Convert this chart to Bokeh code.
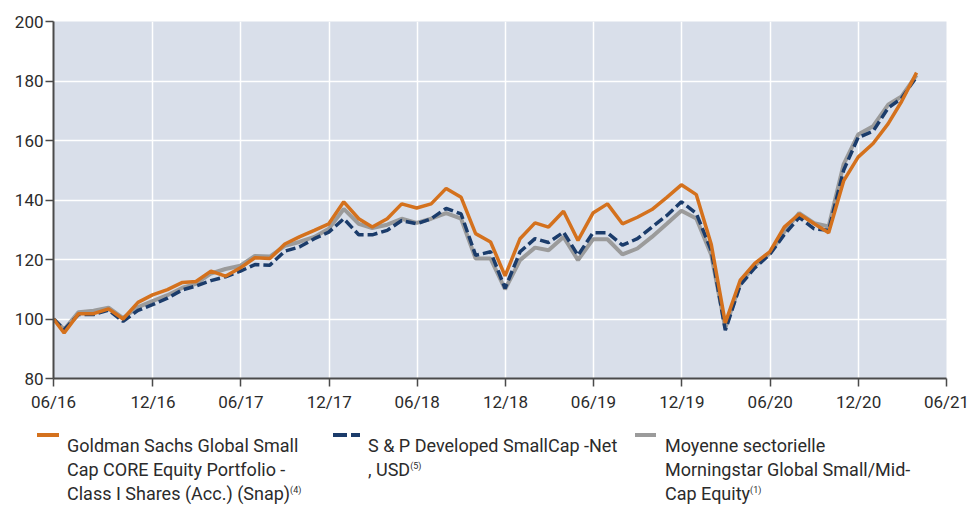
import pandas as pd
from bokeh.plotting import figure
from bokeh.layouts import column
from bokeh.models import Range1d, FixedTicker, Div
from bokeh.embed import file_html
from bokeh.resources import INLINE

# ---------------- data ----------------
first_date = "2016-05-09"
month_ends = pd.date_range("2016-05-31", "2021-03-31", freq="ME")
dates = [pd.Timestamp(first_date)] + list(month_ends)

fund = [100, 95.3, 101.8, 101.8, 103.4, 100, 105.6, 108.1, 109.9, 112.3,
        112.6, 116.1, 114.4, 117.2, 120.6, 120.3, 125.2, 127.6, 129.8, 132,
        139.4, 133.7, 130.9, 133.7, 138.7, 137.3, 138.7, 143.9, 140.9, 128.7,
        125.9, 114.5, 127, 132.3, 130.9, 136.2, 126.4, 135.6, 138.7, 132,
        134.2, 136.8, 140.9, 145.1, 141.8, 125, 98.7, 113.1, 118.7, 122.6,
        130.9, 135.3, 132, 129, 146.4, 154.4, 159, 165.6, 173.1, 182.8]
index_sp = [100, 96.4, 101.5, 101.5, 103, 99.2, 102.9, 104.8, 107, 109.8,
            111.1, 112.9, 114.2, 116.1, 118.3, 118.1, 122.8, 124.2, 127, 129.2,
            133.7, 128.3, 128.3, 129.8, 133.1, 132, 133.7, 137.2, 135.3, 121.4,
            122.6, 110.3, 122.6, 127, 125.7, 129.2, 121.4, 129, 129, 124.8,
            127, 130.9, 134.8, 139.4, 135.5, 123, 96.2, 111.4, 117.2, 121.7,
            128.3, 134.2, 130.3, 129.8, 150, 161, 163.1, 170.9, 174.2, 181.4]
category = [100, 96.5, 102.3, 102.8, 103.8, 100.3, 104, 106, 108, 110.5,
            111.8, 115.3, 116.8, 117.9, 121.2, 121, 124.6, 125.9, 127.6, 130.3,
            137, 132, 130.6, 131.7, 133.7, 132.3, 133.7, 135.6, 133.7, 120.3,
            120.3, 110, 119.8, 124, 123.1, 127.6, 119.8, 126.8, 126.8, 121.7,
            123.7, 127.6, 132, 136.4, 133.8, 121.5, 97, 112, 117.9, 122,
            129.3, 135.6, 132.2, 131.1, 152, 162, 164.8, 172, 174.8, 182]

tick_dates = [first_date, "2016-12-01", "2017-06-01", "2017-12-01", "2018-06-01",
              "2018-12-01", "2019-06-01", "2019-12-01", "2020-06-01", "2020-12-01",
              "2021-06-01"]
tick_labels = ["06/16", "12/16", "06/17", "12/17", "06/18", "12/18", "06/19",
               "12/19", "06/20", "12/20", "06/21"]
y_ticks = [80, 100, 120, 140, 160, 180, 200]

name_lines = [
    ["Goldman Sachs Global Small", "Cap CORE Equity Portfolio -",
     "Class I Shares (Acc.) (Snap)"],
    ["S & P Developed SmallCap -Net", ", USD"],
    ["Moyenne sectorielle", "Morningstar Global Small/Mid-", "Cap Equity"],
]
name_notes = ["(4)", "(5)", "(1)"]

# ---------------- helpers ----------------
ref = pd.Timestamp("2016-06-01")
def to_m(d):
    return (pd.Timestamp(d) - ref).days / 30.4375

x = [to_m(d) for d in dates]
tx = [to_m(d) for d in tick_dates]

FONT = "Roboto"
TXT = "#2b2b2b"
AX = "#4a4a4a"
ORANGE = "#D4711D"
BLUE = "#1B3C6B"
GRAY = "#9B9B9B"

p = figure(width=970, height=414, output_backend="svg", toolbar_location=None,
           x_range=Range1d(tx[0], tx[-1]), y_range=Range1d(80, 200),
           min_border_left=53, min_border_right=24, min_border_top=21,
           min_border_bottom=34)
p.background_fill_color = "#D9DFEA"
p.border_fill_color = "white"
p.outline_line_color = None

p.xaxis.ticker = FixedTicker(ticks=tx)
p.xaxis.major_label_overrides = {t: l for t, l in zip(tx, tick_labels)}
p.yaxis.ticker = FixedTicker(ticks=y_ticks)
for ax in (p.xaxis, p.yaxis):
    ax.axis_line_color = AX
    ax.axis_line_width = 2
    ax.major_tick_line_color = AX
    ax.major_tick_line_width = 1.5
    ax.major_tick_out = 8
    ax.major_tick_in = 0
    ax.minor_tick_line_color = None
    ax.major_label_text_font = FONT
    ax.major_label_text_font_size = "17px"
    ax.major_label_text_color = TXT
p.xaxis.major_label_standoff = 5
p.yaxis.major_label_standoff = 2

p.xgrid.ticker = FixedTicker(ticks=tx)
p.ygrid.ticker = FixedTicker(ticks=y_ticks)
p.grid.grid_line_color = "white"
p.grid.grid_line_width = 1.5

p.line(x, category, line_color=GRAY, line_width=4)
p.line(x, index_sp, line_color=BLUE, line_width=3.5, line_dash="10 4")
p.line(x, fund, line_color=ORANGE, line_width=3.5)

# ---------------- legend (HTML strip under the plot) ----------------
sample_segs = [[(37, 22)], [(333, 14), (351, 9)], [(635, 21)]]
text_x = [67, 368, 665]
colors = [ORANGE, BLUE, GRAY]
parts = []
for i in range(3):
    for left, w in sample_segs[i]:
        parts.append(f'<div style="position:absolute;left:{left}px;top:19px;'
                     f'width:{w}px;height:4px;background:{colors[i]};"></div>')
    lines = list(name_lines[i])
    lines[-1] = (lines[-1] + f'<sup style="font-size:9px;line-height:0;'
                 f'vertical-align:7px;">{name_notes[i]}</sup>')
    parts.append(f'<div style="position:absolute;left:{text_x[i]}px;top:20px;'
                 f'white-space:nowrap;font-family:{FONT};font-size:18px;'
                 f'line-height:24px;color:{TXT};">' + "<br>".join(lines) + '</div>')
html = ('<div style="position:relative;width:970px;height:95px;margin:0;padding:0;">'
        + "".join(parts) + '</div>')
lg = Div(text=html, width=970, height=95, margin=0)

layout = column(p, lg, spacing=0)
open("out.html", "w").write(file_html(layout, INLINE))
